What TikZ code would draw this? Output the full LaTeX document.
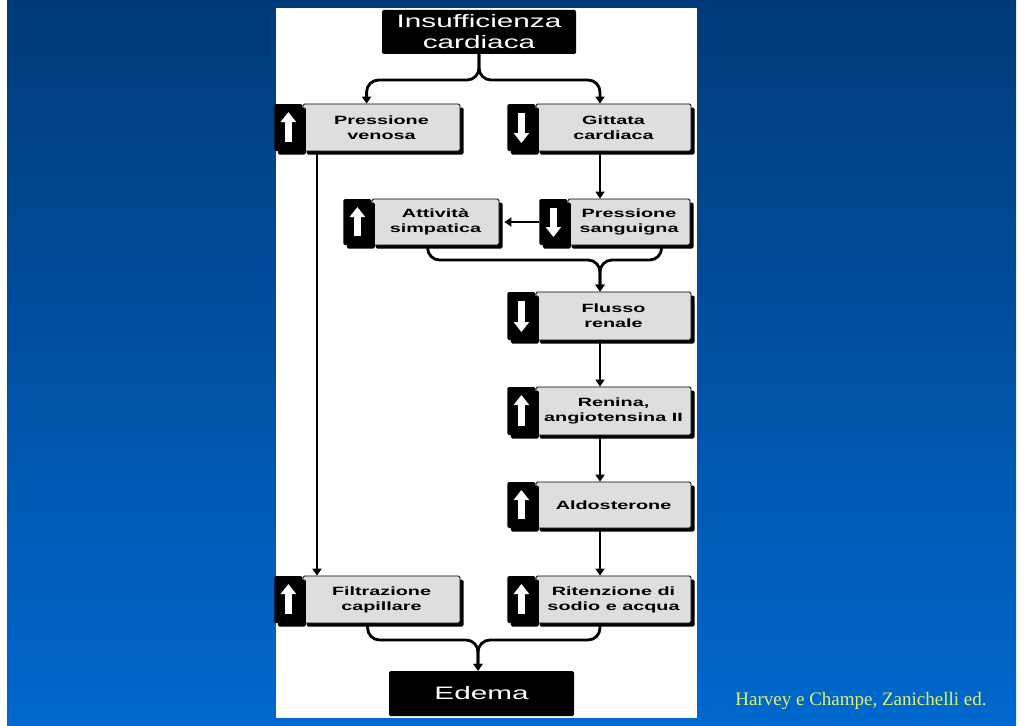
\documentclass[tikz,border=0pt]{standalone}
\usepackage{fontspec}
\usepackage{tikz}
\usetikzlibrary{arrows.meta, positioning, shadows}
\setmainfont{Liberation Serif}
\newfontfamily\boxfont{Liberation Sans}[FakeStretch=1.65]
\definecolor{bgtop}{RGB}{0,58,120}
\definecolor{bgbottom}{RGB}{0,104,206}
\definecolor{boxgray}{RGB}{222,222,222}
\definecolor{credit}{RGB}{226,240,110}

\begin{document}
\begin{tikzpicture}[
  x=1pt, y=-1pt,
  effect/.style={rectangle, draw=black, line width=0.8pt, fill=boxgray, rounded corners=1.5pt,
                 minimum width=155pt, minimum height=47pt, inner sep=0pt, align=center,
                 font=\boxfont\bfseries\fontsize{12}{15}\selectfont,
                 drop shadow={shadow xshift=3.5pt, shadow yshift=-3.5pt, fill=black, opacity=1}},
  tab/.style={rectangle, fill=black, rounded corners=1.5pt, minimum width=28pt,
              minimum height=47pt, inner sep=0pt,
              drop shadow={shadow xshift=3.5pt, shadow yshift=-3.5pt, fill=black, opacity=1}},
  rise/.style={tab, path picture={\draw[white, line width=6.5pt, -{Triangle[width=15pt,length=10pt]}]
               ([yshift=9pt]path picture bounding box.south) -- ([yshift=-8pt]path picture bounding box.north);}},
  fall/.style={tab, path picture={\draw[white, line width=6.5pt, -{Triangle[width=15pt,length=10pt]}]
               ([yshift=-9pt]path picture bounding box.north) -- ([yshift=8pt]path picture bounding box.south);}},
  cause/.style={rectangle, fill=black, text=white, rounded corners=1.5pt, inner sep=0pt,
                align=center, font=\boxfont\fontsize{18}{21}\selectfont},
  arrow/.style={-{Triangle[width=9pt,length=7pt]}, line width=2.8pt},
]

% Background and panel
\fill[white] (0,0) rectangle (1024,725);
\shade[top color=bgtop, bottom color=bgbottom] (7,0) rectangle (1016,725);
\fill[white] (276,8) rectangle (697,718);

% Start
\node[cause, minimum width=194pt, minimum height=44pt] (ins) at (479,32) {Insufficienza\\cardiaca};

% First row
\node[effect, minimum width=157pt] (pv) at (381.5,127.5) {Pressione\\venosa};
\node[rise, left=0pt of pv] (pvtab) {};

\node[effect] (gc) at (613.5,127.5) {Gittata\\cardiaca};
\node[fall, left=0pt of gc] (gctab) {};

% Second row
\node[effect, minimum width=127pt, minimum height=46pt] (as) at (435.5,222) {Attività\\simpatica};
\node[rise, minimum height=46pt, left=0pt of as] (astab) {};

\node[effect, minimum width=122pt, minimum height=46pt] (ps) at (629,222) {Pressione\\sanguigna};
\node[fall, minimum height=46pt, left=0pt of ps] (pstab) {};

% Renal chain
\node[effect, minimum height=48pt] (fr) at (613.5,316) {Flusso\\renale};
\node[fall, minimum height=48pt, left=0pt of fr] (frtab) {};

\node[effect, minimum height=48pt] (ren) at (613.5,411) {Renina,\\angiotensina II};
\node[rise, minimum height=48pt, left=0pt of ren] (rentab) {};

\node[effect, minimum height=46pt] (ald) at (613.5,505) {Aldosterone};
\node[rise, minimum height=46pt, left=0pt of ald] (aldtab) {};

% Last row
\node[effect, minimum width=157pt] (fc) at (381.5,599.5) {Filtrazione\\capillare};
\node[rise, left=0pt of fc] (fctab) {};

\node[effect] (rit) at (613.5,599.5) {Ritenzione di\\sodio e acqua};
\node[rise, left=0pt of rit] (rittab) {};

% End
\node[cause, minimum width=185pt, minimum height=45pt] (ed) at (481.5,693.5) {Edema};

% Credit
\node[font=\fontsize{19}{22}\selectfont, text=credit] (src) at (861,701) {Harvey e Champe, Zanichelli ed.};

% Forks and columns
\coordinate (col) at (600,0);
\coordinate (lcol) at (317,0);
\coordinate (topfork) at (479,80);
\coordinate (midfork) at (600,260);
\coordinate (edfork) at (478,640);

% Split from the start
\draw[arrow, rounded corners=12pt] (ins.south) -- (topfork) -| ([xshift=64pt]pv.north west);
\draw[arrow, rounded corners=12pt] (ins.south) -- (topfork) -| (gc.north -| col);

% Venous pressure to filtration
\draw[arrow] (pv.south -| lcol) -- (fc.north -| lcol);

% Output chain
\draw[arrow] (gc.south -| col) -- (ps.north -| col);
\draw[arrow] (pstab.west) -- ([xshift=5pt]as.east);
\draw[arrow, rounded corners=12pt] ([xshift=56pt]as.south west) |- (midfork) -- (fr.north -| midfork);
\draw[arrow, rounded corners=12pt] ([xshift=94pt]ps.south west) |- (midfork) -- (fr.north -| midfork);
\draw[arrow] (fr.south -| col) -- (ren.north -| col);
\draw[arrow] (ren.south -| col) -- (ald.north -| col);
\draw[arrow] (ald.south -| col) -- (rit.north -| col);

% Join to edema
\draw[arrow, rounded corners=12pt] ([xshift=65pt]fc.south west) |- (edfork) -- (ed.north -| edfork);
\draw[arrow, rounded corners=12pt] (rit.south -| col) |- (edfork) -- (ed.north -| edfork);

\end{tikzpicture}
\end{document}
